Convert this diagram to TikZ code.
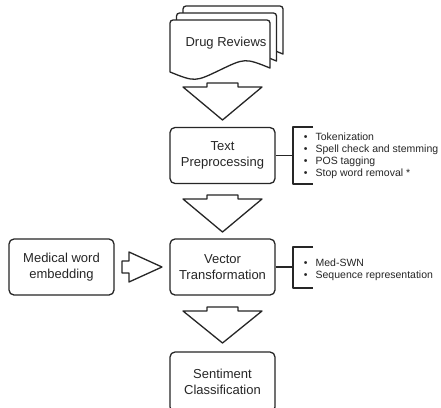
\documentclass[tikz,border=0pt]{standalone}
\usepackage{fontspec}
\setmainfont{Liberation Sans}
\begin{document}
\begin{tikzpicture}[x=1pt,y=-1pt,
  line width=1.3pt, line join=round,
  box/.style={draw=black!85, rounded corners=5pt, minimum width=105pt,
    minimum height=56pt, align=center, inner sep=0pt,
    font=\fontsize{13}{15.5}\selectfont, text=black!85},
  blockarrow/.style={draw=black!85, fill=white, line width=1.3pt},
  page/.style={draw=black!85, fill=white, rounded corners=3pt},
  bullets/.style={anchor=west, align=left, inner sep=0pt,
    font=\fontsize{10.5}{12}\selectfont, text=black!85},
  bracket/.style={draw=black!85}]
\useasboundingbox[fill=white] (0,0) rectangle (441,407);

% stacked document pages (back to front)
\foreach \dx/\dy in {13/-14, 6.5/-7, 0/0} {
  \begin{scope}[shift={(\dx,\dy)}]
    \path[page] (170,72) -- (170,20) -- (270,20) [sharp corners] -- (270,68)
      .. controls (245,58) .. (220,70) .. controls (195,82) .. (170,72) -- cycle;
  \end{scope}
}
\node[inner sep=0pt, font=\fontsize{13}{15.5}\selectfont, text=black!85] (reviews) at (226,43) {Drug Reviews};

% process boxes
\node[box] (prep) at (222.5,155.5) {Text\\Preprocessing};
\node[box] (vec) at (222.5,267) {Vector\\Transformation};
\node[box] (emb) at (61.5,267) {Medical word\\embedding};
\node[box, minimum height=60pt] (sent) at (222.5,382) {Sentiment\\Classification};

% block arrows
\path[blockarrow] (207,83) -- (238,83) -- (238,87) -- (262,87) -- (222.5,120)
  -- (183,87) -- (207,87) -- cycle;
\path[blockarrow] (207,195) -- (238,195) -- (238,199) -- (262,199) -- (222.5,232)
  -- (183,199) -- (207,199) -- cycle;
\path[blockarrow] (207,307) -- (238,307) -- (238,311) -- (262,311) -- (222.5,343)
  -- (183,311) -- (207,311) -- cycle;
\path[blockarrow] (122,261) -- (129,261) -- (129,252) -- (162,267) -- (129,282)
  -- (129,273) -- (122,273) -- cycle;

% annotation brackets
\coordinate (prepB) at (293,155.5);
\draw[bracket] (prep.east) -- (prepB);
\draw[bracket] (313,127) -- (293,127) -- (293,184) -- (313,184);
\node[bullets] (prepList) at (303.2,156) {%
  \makebox[11.8pt][l]{•}Tokenization\\
  \makebox[11.8pt][l]{•}Spell check and stemming\\
  \makebox[11.8pt][l]{•}POS tagging\\
  \makebox[11.8pt][l]{•}Stop word removal *};

\coordinate (vecB) at (293,267);
\draw[bracket] (vec.east) -- (vecB);
\draw[bracket] (313,247) -- (293,247) -- (293,288) -- (313,288);
\node[bullets] (vecList) at (303.2,270) {%
  \makebox[11.8pt][l]{•}Med-SWN\\
  \makebox[11.8pt][l]{•}Sequence representation};
\end{tikzpicture}
\end{document}
